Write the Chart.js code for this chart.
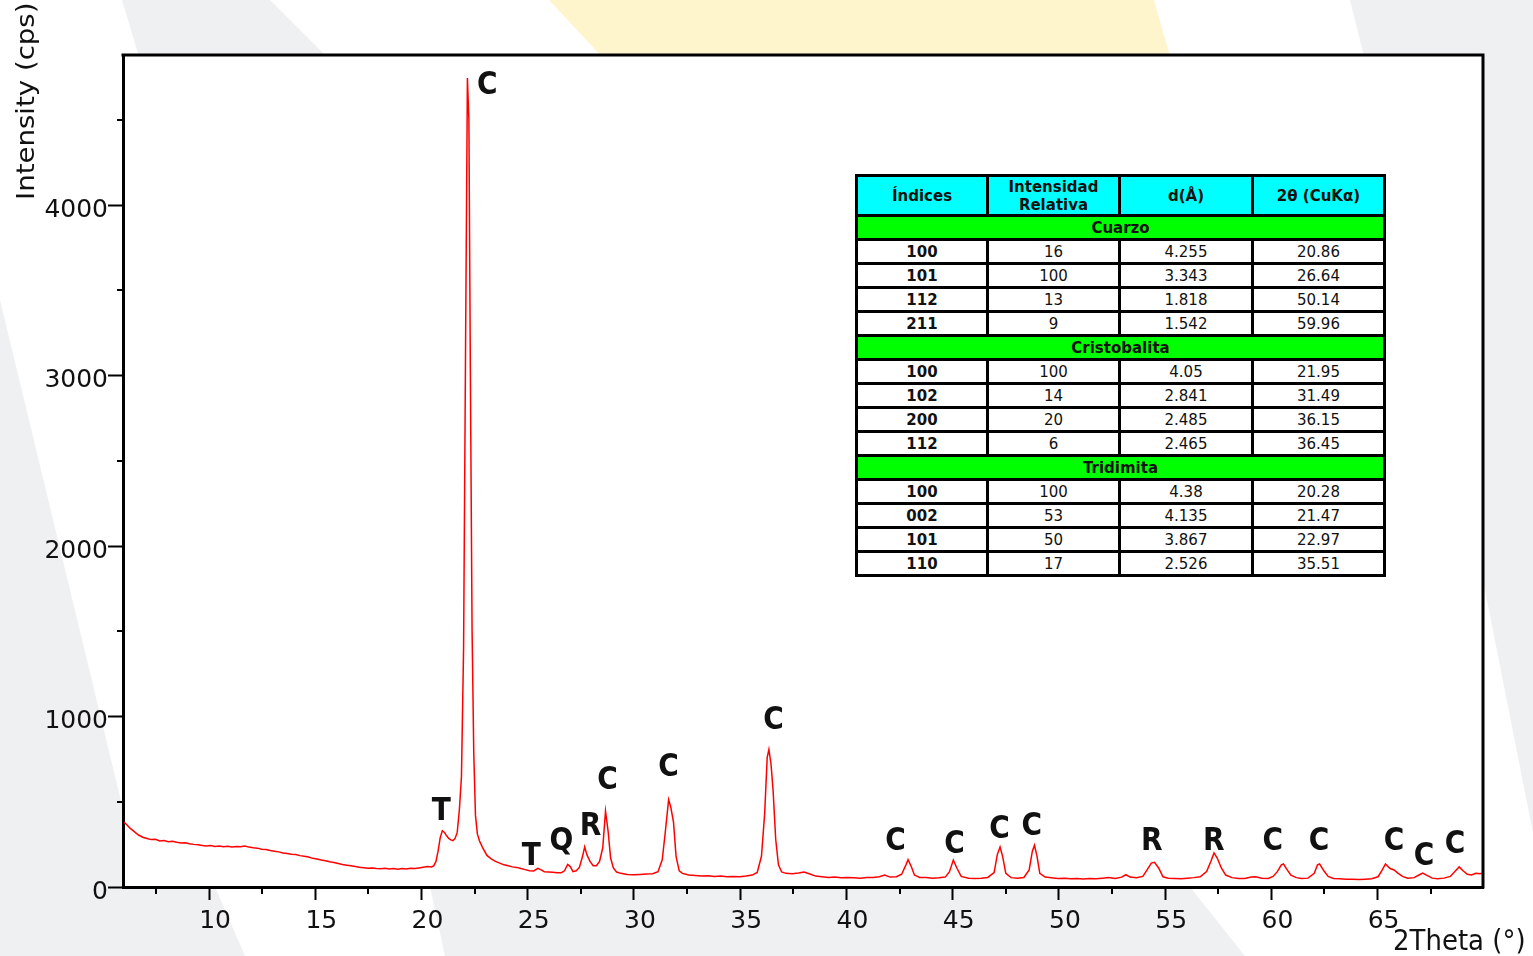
<!DOCTYPE html>
<html>
<head>
<meta charset="utf-8">
<script src="https://cdn.jsdelivr.net/npm/chart.js@4.4.1/dist/chart.umd.min.js"></script>
<style>
  body { margin: 0; background: #fff; }
  #wrap { position: relative; width: 1533px; height: 956px; }
  #tbl { position: absolute; left: 855px; top: 174px; border-collapse: collapse; table-layout: fixed; width: 530px;
         font-family: 'DejaVu Sans', sans-serif; font-size: 15px; color: #111; background: #fff; }
  #tbl td { border: 3px solid #000; text-align: center; padding: 0; height: 21px; line-height: 18px; overflow: hidden; white-space: nowrap; }
  #tbl tr.head td { background: #00ffff; font-weight: bold; font-size: 15px; height: 37px; line-height: 18px; }
  #tbl tr.sec td { background: #00ff00; font-weight: bold; }
  #tbl td.idx { font-weight: bold; }
</style>
</head>
<body>
<div id="wrap">
  <canvas id="canvas" width="1533" height="956"></canvas>
  <table id="tbl"></table>
</div>
<script>
// diffractogram (2theta in degrees, intensity in cps)
const twoTheta = [6.0, 6.13, 6.28, 6.48, 6.68, 6.88, 7.08, 7.28, 7.48, 7.68, 7.88, 8.08, 8.28, 8.48, 8.68, 8.88,
  9.08, 9.28, 9.48, 9.68, 9.88, 10.08, 10.28, 10.48, 10.68, 10.88, 11.08, 11.28, 11.48, 11.68, 11.88, 12.08,
  12.28, 12.48, 12.68, 12.88, 13.08, 13.28, 13.48, 13.68, 13.88, 14.08, 14.28, 14.48, 14.68, 14.88, 15.08,
  15.28, 15.48, 15.68, 15.88, 16.08, 16.28, 16.48, 16.68, 16.88, 17.08, 17.28, 17.48, 17.68, 17.88, 18.08,
  18.28, 18.48, 18.68, 18.88, 19.08, 19.28, 19.48, 19.68, 19.88, 20.08, 20.28, 20.48, 20.58, 20.68, 20.78,
  20.88, 20.98, 21.08, 21.18, 21.28, 21.38, 21.48, 21.58, 21.68, 21.78, 21.88, 21.98, 22.08, 22.16, 22.23,
  22.30, 22.38, 22.46, 22.54, 22.63, 22.73, 22.88, 23.08, 23.28, 23.48, 23.68, 23.88, 24.08, 24.28, 24.48,
  24.68, 24.88, 25.08, 25.28, 25.48, 25.63, 25.78, 25.98, 26.18, 26.38, 26.58, 26.73, 26.88, 27.0, 27.13,
  27.28, 27.43, 27.58, 27.68, 27.78, 27.93, 28.08, 28.23, 28.38, 28.53, 28.66, 28.78, 28.90, 29.03, 29.18,
  29.38, 29.68, 29.98, 30.28, 30.58, 30.88, 31.13, 31.33, 31.48, 31.63, 31.73, 31.86, 31.98, 32.13, 32.28,
  32.58, 32.88, 33.18, 33.48, 33.78, 34.08, 34.38, 34.68, 34.98, 35.28, 35.56, 35.80, 36.00, 36.15, 36.27,
  36.35, 36.45, 36.55, 36.67, 36.80, 36.95, 37.15, 37.45, 37.75, 38.00, 38.25, 38.55, 38.85, 39.15, 39.45,
  39.75, 40.05, 40.35, 40.65, 40.95, 41.25, 41.55, 41.80, 42.05, 42.35, 42.60, 42.80, 42.90, 43.05, 43.20,
  43.45, 43.75, 44.05, 44.35, 44.65, 44.85, 45.03, 45.20, 45.40, 45.75, 46.05, 46.35, 46.65, 46.95, 47.10,
  47.23, 47.35, 47.50, 47.75, 48.05, 48.35, 48.60, 48.75, 48.85, 48.97, 49.10, 49.35, 49.65, 49.95, 50.25,
  50.55, 50.85, 51.15, 51.45, 51.75, 52.05, 52.35, 52.65, 52.95, 53.15, 53.35, 53.65, 53.95, 54.15, 54.35,
  54.50, 54.70, 54.90, 55.15, 55.45, 55.75, 56.05, 56.35, 56.65, 56.95, 57.15, 57.30, 57.45, 57.65, 57.85,
  58.15, 58.45, 58.75, 59.05, 59.25, 59.55, 59.85, 60.08, 60.28, 60.47, 60.57, 60.72, 60.92, 61.17, 61.42,
  61.72, 62.02, 62.17, 62.27, 62.47, 62.67, 62.92, 63.22, 63.52, 63.82, 64.12, 64.42, 64.72, 65.02, 65.22,
  65.37, 65.57, 65.77, 65.97, 66.17, 66.42, 66.72, 66.97, 67.12, 67.32, 67.57, 67.82, 68.12, 68.42, 68.67,
  68.84, 69.02, 69.22, 69.42, 69.62, 69.82, 69.98];
const counts = [380, 365, 345, 325, 305, 292, 285, 278, 280, 270, 272, 266, 268, 262, 258, 260,
  254, 250, 248, 244, 240, 243, 238, 241, 236, 239, 234, 238, 236, 240, 234, 230,
  228, 222, 220, 214, 210, 206, 200, 197, 192, 190, 184, 180, 176, 168, 164,
  158, 154, 148, 144, 138, 132, 128, 124, 120, 116, 113, 110, 112, 108, 107,
  110, 106, 108, 104, 108, 106, 110, 108, 112, 116, 120, 118, 125, 150, 210,
  290, 330, 320, 300, 285, 276, 272, 285, 320, 450, 650, 1400, 3300, 4745, 4500,
  3000, 1500, 780, 420, 310, 270, 230, 185, 165, 150, 140, 130, 125, 118, 115,
  108, 102, 96, 94, 110, 100, 90, 88, 86, 84, 84, 95, 132, 120, 90,
  95, 115, 180, 235, 190, 150, 125, 125, 150, 230, 445, 330, 170, 112, 88,
  80, 74, 72, 74, 76, 78, 90, 160, 330, 512, 470, 380, 180, 95, 80,
  70, 68, 65, 66, 62, 64, 60, 62, 60, 64, 70, 85, 180, 430, 760,
  806, 720, 560, 280, 130, 88, 80, 78, 82, 88, 78, 64, 60, 56, 58,
  54, 55, 54, 52, 55, 56, 60, 70, 58, 60, 75, 130, 160, 120, 70,
  56, 55, 52, 54, 58, 90, 158, 110, 62, 52, 50, 52, 56, 85, 190,
  235, 180, 80, 55, 52, 56, 100, 210, 245, 180, 80, 58, 54, 50, 52,
  48, 50, 47, 50, 48, 52, 55, 50, 58, 72, 58, 55, 62, 100, 140,
  145, 110, 60, 52, 50, 48, 52, 55, 60, 90, 150, 200, 170, 110, 70,
  55, 50, 50, 58, 60, 52, 50, 62, 90, 130, 135, 105, 70, 55, 50,
  52, 80, 130, 135, 95, 62, 50, 48, 46, 45, 44, 46, 48, 60, 100,
  135, 110, 100, 80, 62, 52, 55, 72, 82, 68, 52, 48, 52, 62, 95,
  118, 95, 75, 70, 80, 78, 82];

const xMajorTicks = [10, 15, 20, 25, 30, 35, 40, 45, 50, 55, 60, 65];
const xMinorTicks = [7.5, 12.5, 17.5, 22.5, 27.5, 32.5, 37.5, 42.5, 47.5, 52.5, 57.5, 62.5, 67.5];
const yMajorTicks = [0, 1000, 2000, 3000, 4000];
const yMinorTicks = [500, 1500, 2500, 3500, 4500];

// phase letters above the peaks
const peakText = ['C', 'T', 'T', 'Q', 'R', 'C', 'C', 'C', 'C', 'C', 'C', 'C', 'R', 'R', 'C', 'C', 'C', 'C', 'C'];
const peakX = [23.09, 20.93, 25.17, 26.58, 27.95, 28.75, 31.62, 36.57, 42.31, 45.09, 47.21, 48.72, 54.37, 57.29, 60.07, 62.24, 65.77, 67.18, 68.64];
const peakY = [4700, 441, 177, 266, 354, 624, 700, 975, 266, 249, 337, 354, 266, 266, 266, 266, 266, 178, 249];

// reference table
const tableHeader = ['Índices', 'Intensidad<br>Relativa', 'd(Å)', '2θ (CuKα)'];
const phaseNames = ['Cuarzo', 'Cristobalita', 'Tridimita'];
const cuarzoRows = [['100', '16', '4.255', '20.86'], ['101', '100', '3.343', '26.64'], ['112', '13', '1.818', '50.14'], ['211', '9', '1.542', '59.96']];
const cristobalitaRows = [['100', '100', '4.05', '21.95'], ['102', '14', '2.841', '31.49'], ['200', '20', '2.485', '36.15'], ['112', '6', '2.465', '36.45']];
const tridimitaRows = [['100', '100', '4.38', '20.28'], ['002', '53', '4.135', '21.47'], ['101', '50', '3.867', '22.97'], ['110', '17', '2.526', '35.51']];

let html = '<colgroup><col style="width:131px"><col style="width:132px"><col style="width:133px"><col style="width:132px"></colgroup>';
html += '<tr class="head">' + tableHeader.map(h => '<td>' + h + '</td>').join('') + '</tr>';
[cuarzoRows, cristobalitaRows, tridimitaRows].forEach((rows, i) => {
  html += '<tr class="sec"><td colspan="4">' + phaseNames[i] + '</td></tr>';
  rows.forEach(r => {
    html += '<tr>' + r.map((v, j) => '<td' + (j === 0 ? ' class="idx"' : '') + '>' + v + '</td>').join('') + '</tr>';
  });
});
document.getElementById('tbl').innerHTML = html;

const FONT = "'DejaVu Sans', sans-serif";

function poly(c, color, pts) {
  c.fillStyle = color;
  c.beginPath();
  c.moveTo(pts[0][0], pts[0][1]);
  for (let i = 1; i < pts.length; i++) c.lineTo(pts[i][0], pts[i][1]);
  c.closePath();
  c.fill();
}

const decor = {
  id: 'decor',
  beforeDraw(chart) {
    const c = chart.ctx, a = chart.chartArea;
    c.save();
    c.fillStyle = '#fff';
    c.fillRect(0, 0, chart.width, chart.height);
    poly(c, '#eff0f2', [[122, 0], [270, 0], [330, 60], [140, 60]]);
    poly(c, '#eff0f2', [[0, 300], [128, 830], [215, 887], [245, 956], [0, 956]]);
    poly(c, '#eff0f2', [[430, 887], [1190, 887], [1245, 956], [445, 956]]);
    poly(c, '#eff0f2', [[1350, 0], [1533, 0], [1533, 833], [1484, 585], [1484, 60], [1365, 60]]);
    poly(c, '#fff5cc', [[549, 0], [1154, 0], [1171, 60], [605, 60]]);
    c.fillStyle = '#fff';
    c.fillRect(a.left, a.top, a.right - a.left, a.bottom - a.top);
    c.restore();
  },
  afterDraw(chart) {
    const c = chart.ctx, a = chart.chartArea;
    const xs = chart.scales.x, ys = chart.scales.y;
    c.save();
    // frame top and right
    c.strokeStyle = '#000';
    c.lineWidth = 3;
    c.beginPath();
    c.moveTo(a.left - 1.5, a.top);
    c.lineTo(a.right, a.top);
    c.lineTo(a.right, a.bottom + 1.5);
    c.stroke();
    // minor ticks
    c.lineWidth = 2;
    c.beginPath();
    xMinorTicks.forEach(v => {
      const px = Math.round(xs.getPixelForValue(v));
      c.moveTo(px, a.bottom);
      c.lineTo(px, a.bottom + 7);
    });
    yMinorTicks.forEach(v => {
      const py = Math.round(ys.getPixelForValue(v));
      c.moveTo(a.left - 6, py);
      c.lineTo(a.left, py);
    });
    c.stroke();
    // peak letters
    c.fillStyle = '#111';
    c.font = 'bold 28px ' + FONT;
    c.textAlign = 'center';
    c.textBaseline = 'middle';
    peakText.forEach((t, i) => {
      c.save();
      c.translate(xs.getPixelForValue(peakX[i]), ys.getPixelForValue(peakY[i]));
      c.scale(1, 1.12);
      c.fillText(t, 0, 0);
      c.restore();
    });
    // axis titles
    c.font = '24px ' + FONT;
    c.textAlign = 'left';
    c.textBaseline = 'alphabetic';
    c.save();
    c.translate(34, 200);
    c.rotate(-Math.PI / 2);
    c.scale(1.15, 1);
    c.fillText('Intensity (cps)', 0, 0);
    c.restore();
    c.font = '26px ' + FONT;
    c.save();
    c.translate(1393, 950);
    c.scale(1, 1.12);
    c.fillText('2Theta (°)', 0, 0);
    c.restore();
    c.restore();
  }
};

const ctx = document.getElementById('canvas').getContext('2d');
const myChart = new Chart(ctx, {
  type: 'scatter',
  data: {
    datasets: [{
      data: twoTheta.map((x, i) => ({ x: x, y: counts[i] })),
      showLine: true,
      borderColor: '#ff0000',
      borderWidth: 1.5,
      pointRadius: 0,
      fill: false
    }]
  },
  options: {
    responsive: false,
    animation: false,
    layout: { padding: { top: 55, right: 50, left: 0, bottom: 0 } },
    plugins: { legend: { display: false }, tooltip: { enabled: false } },
    scales: {
      x: {
        type: 'linear',
        min: 5.95,
        max: 69.96,
        afterBuildTicks: s => { s.ticks = xMajorTicks.map(v => ({ value: v })); },
        afterFit: s => { s.height = 69; },
        grid: { drawOnChartArea: false, tickLength: 13, tickColor: '#000', tickWidth: 2 },
        border: { color: '#000', width: 3 },
        ticks: { font: { family: FONT, size: 25 }, color: '#111', padding: 6, labelOffset: 6, maxRotation: 0, autoSkip: false,
                 callback: v => String(v) }
      },
      y: {
        min: 0,
        max: 4880,
        afterBuildTicks: s => { s.ticks = yMajorTicks.map(v => ({ value: v })); },
        afterFit: s => { s.width = 123; },
        grid: { drawOnChartArea: false, tickLength: 15, tickColor: '#000', tickWidth: 2 },
        border: { color: '#000', width: 3 },
        ticks: { font: { family: FONT, size: 25 }, color: '#111', padding: 0, labelOffset: 5, autoSkip: false,
                 callback: v => String(v) }
      }
    }
  },
  plugins: [decor]
});
</script>
</body>
</html>
